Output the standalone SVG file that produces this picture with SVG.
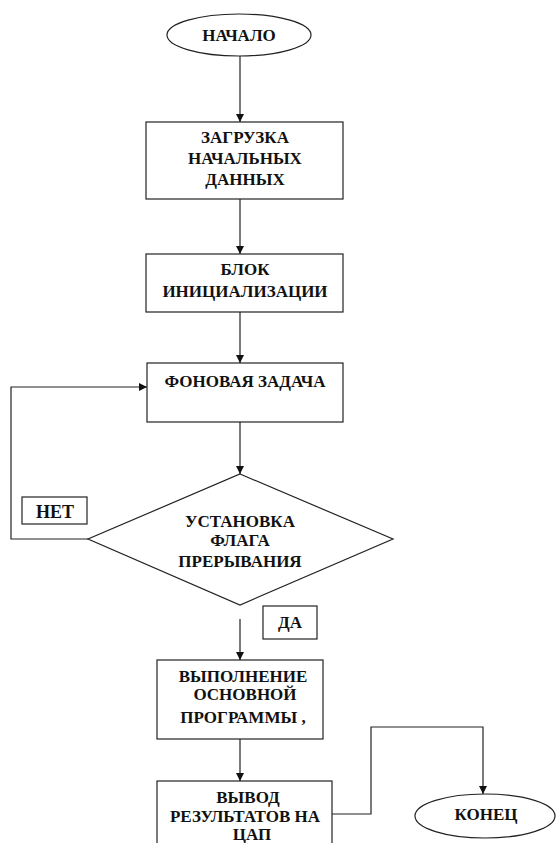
<svg xmlns="http://www.w3.org/2000/svg" width="556" height="843" viewBox="0 0 556 843">
<style>
.s{fill:#fff;stroke:#222;stroke-width:1.2}
.t{font-family:'Liberation Serif','DejaVu Serif',serif;font-weight:bold;font-size:17px;fill:#111;text-anchor:middle}
.c{fill:none;stroke:#222;stroke-width:1.2}
</style>
<defs>
<marker id="a" viewBox="0 0 10 10" refX="10" refY="5" markerWidth="8" markerHeight="8" markerUnits="userSpaceOnUse" orient="auto">
<path d="M0,0 L10,5 L0,10 z" fill="#111"/>
</marker>
</defs>
<rect width="556" height="843" fill="#fff"/>
<g id="connectors">
<line class="c" x1="240" y1="56" x2="240" y2="122" marker-end="url(#a)"/>
<line class="c" x1="240" y1="199" x2="240" y2="254" marker-end="url(#a)"/>
<line class="c" x1="240" y1="312" x2="240" y2="363" marker-end="url(#a)"/>
<line class="c" x1="240" y1="422" x2="240" y2="474" marker-end="url(#a)"/>
<polyline class="c" points="88,539 11,539 11,387 147,387" marker-end="url(#a)"/>
<line class="c" x1="240" y1="619" x2="240" y2="660" marker-end="url(#a)"/>
<line class="c" x1="240" y1="739" x2="240" y2="781" marker-end="url(#a)"/>
<polyline class="c" points="328,814 371,814 371,727 483,727 483,794" marker-end="url(#a)"/>
</g>
<g id="start">
<ellipse class="s" cx="239" cy="35" rx="72" ry="21"/>
<text class="t" font-family="Liberation Serif" x="239" y="41">НАЧАЛО</text>
</g>
<g id="load">
<rect class="s" x="146" y="122" width="197" height="77"/>
<text class="t" x="245" y="143">ЗАГРУЗКА</text>
<text class="t" x="245" y="164">НАЧАЛЬНЫХ</text>
<text class="t" x="245" y="185">ДАННЫХ</text>
</g>
<g id="init">
<rect class="s" x="146" y="254" width="197" height="58"/>
<text class="t" x="245" y="275">БЛОК</text>
<text class="t" x="245" y="297">ИНИЦИАЛИЗАЦИИ</text>
</g>
<g id="bg">
<rect class="s" x="147" y="363" width="196" height="59"/>
<text class="t" x="245" y="387">ФОНОВАЯ ЗАДАЧА</text>
</g>
<g id="decision">
<polygon class="s" points="240,474 393,539 240,605 88,539"/>
<text class="t" x="240" y="527">УСТАНОВКА</text>
<text class="t" x="240" y="546">ФЛАГА</text>
<text class="t" x="240" y="567">ПРЕРЫВАНИЯ</text>
</g>
<g id="no">
<rect class="s" x="22" y="497" width="65" height="27"/>
<text class="t" x="55" y="518" style="font-size:18px">НЕТ</text>
</g>
<g id="yes">
<rect class="s" x="263" y="606" width="54" height="33"/>
<text class="t" x="290" y="628">ДА</text>
</g>
<g id="main">
<rect class="s" x="157" y="660" width="166" height="79"/>
<text class="t" x="243" y="682">ВЫПОЛНЕНИЕ</text>
<text class="t" x="245" y="700">ОСНОВНОЙ</text>
<text class="t" x="243" y="723">ПРОГРАММЫ ,</text>
</g>
<g id="output">
<rect class="s" x="157" y="781" width="175" height="75"/>
<text class="t" x="248" y="803">ВЫВОД</text>
<text class="t" x="245" y="822">РЕЗУЛЬТАТОВ НА</text>
<text class="t" x="252" y="840">ЦАП</text>
</g>
<g id="end">
<ellipse class="s" cx="485" cy="816" rx="70" ry="22"/>
<text class="t" x="486" y="820">КОНЕЦ</text>
</g>
</svg>
